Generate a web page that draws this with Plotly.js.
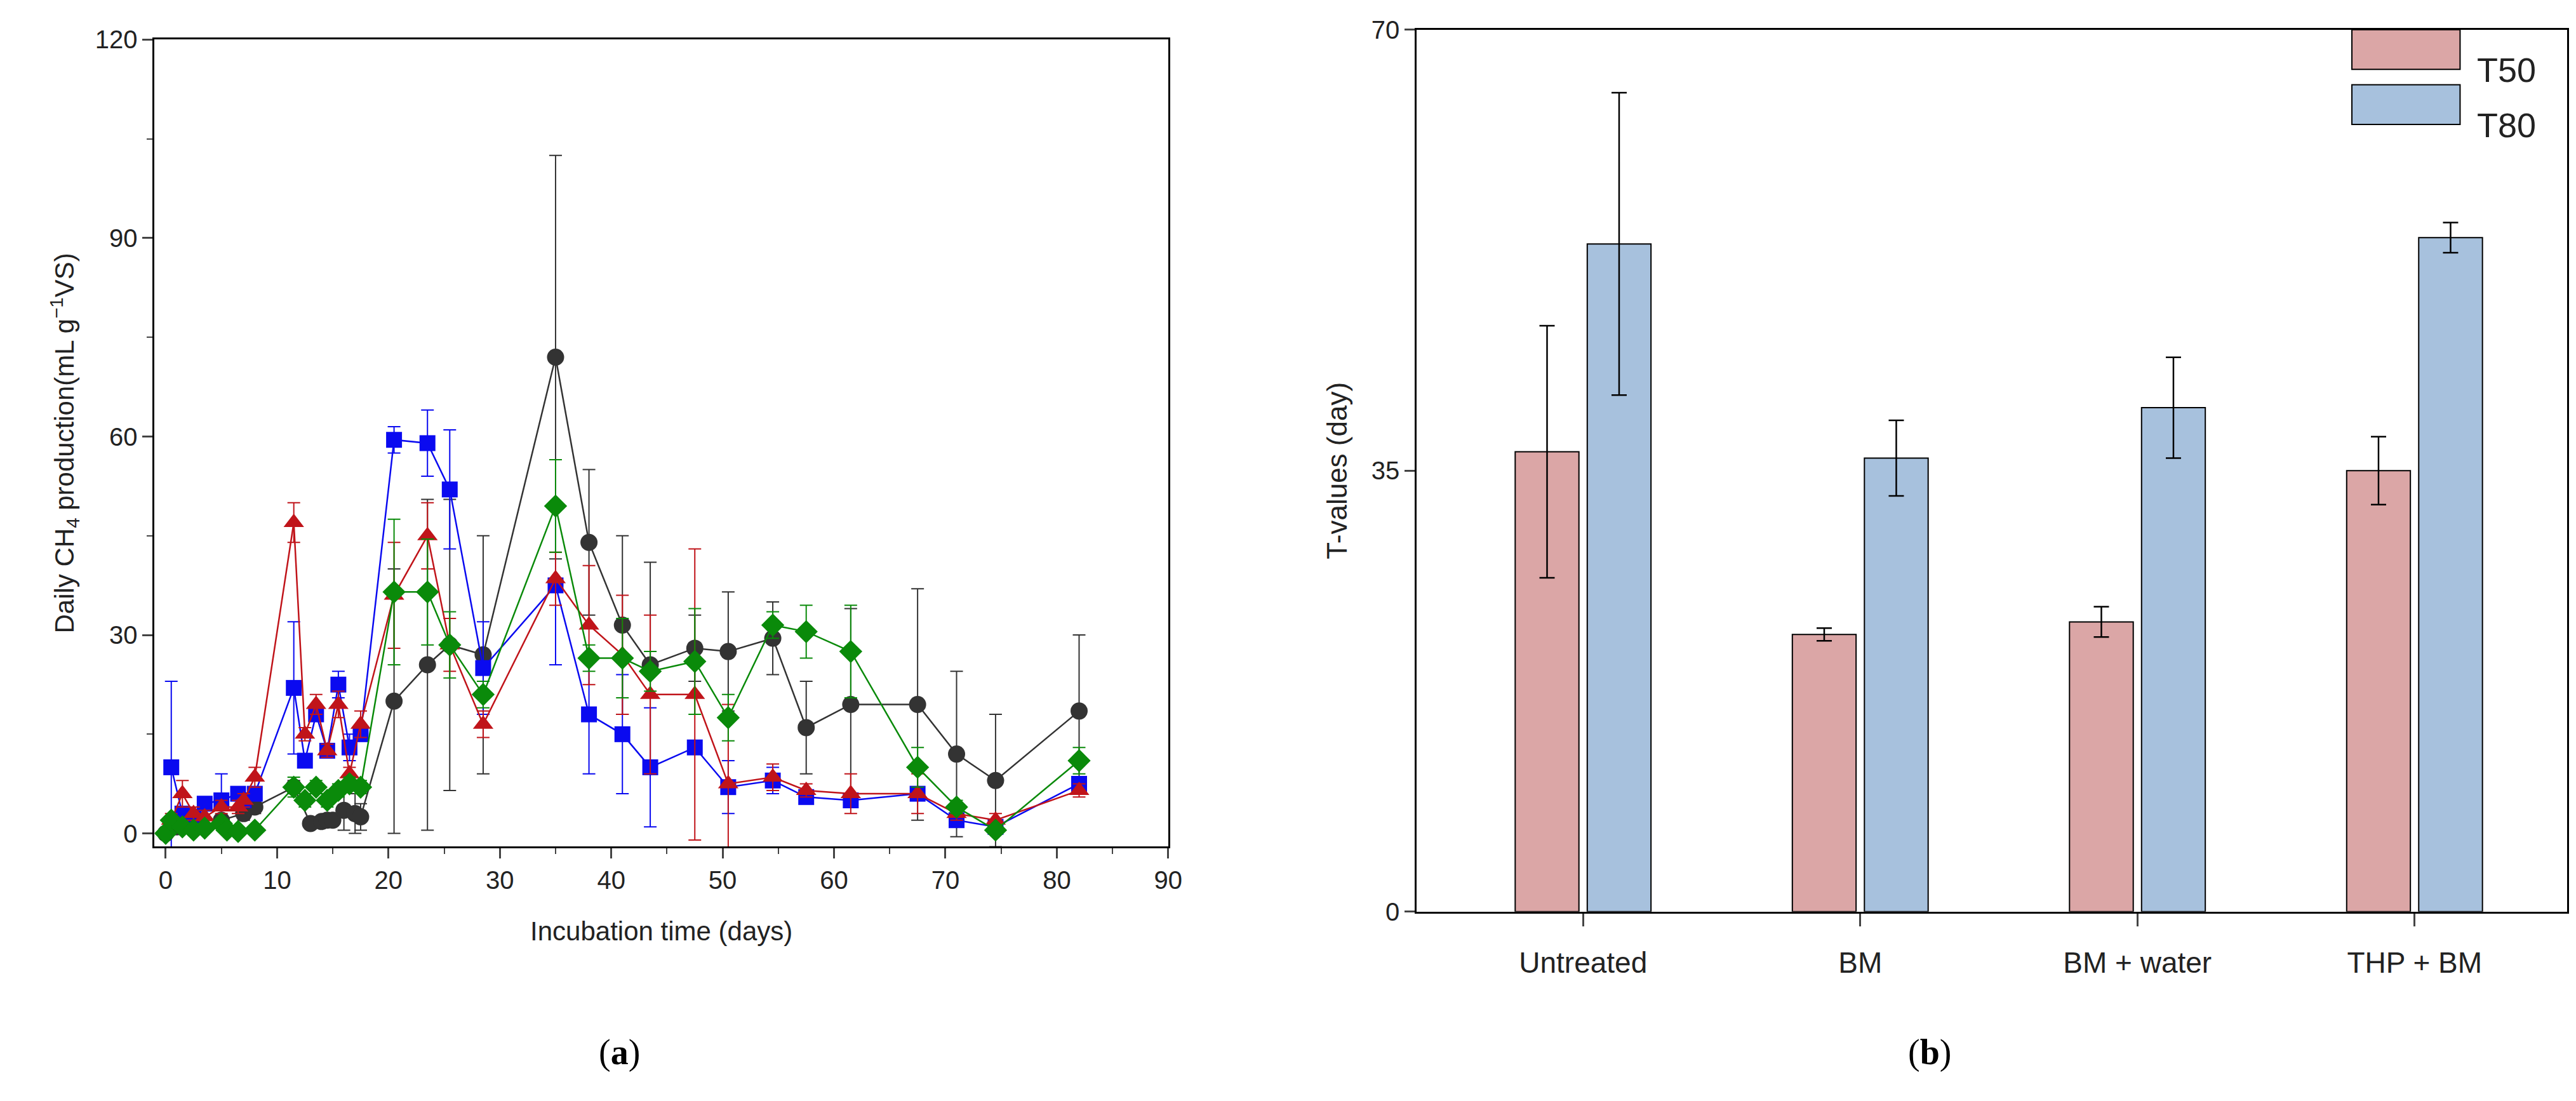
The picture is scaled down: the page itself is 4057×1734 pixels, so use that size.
<!DOCTYPE html>
<html><head><meta charset="utf-8">
<script src="https://cdn.plot.ly/plotly-3.0.1.min.js"></script>
<style>body{margin:0}#c{width:4057px;height:1734px}</style></head>
<body><div id="c"></div>
<script>
const xBlack=[0,1,2,3,5,7,8,11.5,13,14,14.5,15,16,17,17.5,20.5,23.5,25.5,28.5,35,38,41,43.5,47.5,50.5,54.5,57.5,61.5,67.5,71,74.5,82];
const yBlack=[0,1,1.5,2,2,3,4,7,1.5,1.8,2,2,3.5,3,2.5,20,25.5,28.5,27,72,44,31.5,25.5,28,27.5,29.5,16,19.5,19.5,12,8,18.5];
const eBlack=[0,0.5,0.5,0.5,0.5,1,1,1,0.5,0.5,0.5,0.5,3,3,2,20,25,22,18,30.5,11,13.5,15.5,5,9,5.5,7,14.5,17.5,12.5,10,11.5];
const xBlue=[0.5,1.5,2.5,3.5,5,6.5,7,8,11.5,12.5,13.5,14.5,15.5,16.5,17.5,20.5,23.5,25.5,28.5,35,38,41,43.5,47.5,50.5,54.5,57.5,61.5,67.5,71,74.5,82];
const yBlue=[10,3,2.5,4.5,5,6,5,6,22,11,18,12.5,22.5,13,15,59.5,59,52,25,37.5,18,15,10,13,7,8,5.5,5,6,2,1,7.5];
const eBlue=[13,1,1,1,4,1,1,1,10,1,1,1,2,2,1,2,5,9,7,12,9,9,9,1,4,2,1,1,1,1,1,1];
const xRed=[0.5,1.5,2.5,3.5,5,6.5,7,8,11.5,12.5,13.5,14.5,15.5,16.5,17.5,20.5,23.5,25.5,28.5,35,38,41,43.5,47.5,50.5,54.5,57.5,61.5,67.5,71,74.5,82];
const yRed=[2,6,3,2.5,4,4,5,8.5,47,15,19.5,12.5,19.5,9,16.5,36,45,28.5,16.5,38.5,31.5,27,21,21,7.5,8.5,6.5,6,6,3,2,6.5];
const eRed=[1,2,1,1,1,1,1,1.5,3,1,1.5,1,2,1,2,8,5,4,2,4,9,9,12,22,12,2,1,3,3,1,1,1];
const xGreen=[0,0.5,1.5,2.5,3.5,5,5.5,6.5,8,11.5,12.5,13.5,14.5,15.5,16.5,17.5,20.5,23.5,25.5,28.5,35,38,41,43.5,47.5,50.5,54.5,57.5,61.5,67.5,71,74.5,82];
const yGreen=[0,2,1,0.5,0.8,1.5,0.5,0.3,0.5,7,5,7,5,6.5,7.5,7,36.5,36.5,28.5,21,49.5,26.5,26.5,24.5,26,17.5,31.5,30.5,27.5,10,4,0.5,11];
const eGreen=[0,0.5,0.5,0.3,0.3,0.5,0.3,0.2,0.3,1.5,1,1,1,1,1,1,11,8,5,2,7,2,6,3,8,3.5,2,4,7,3,1,0.5,2];
const cats=['Untreated','BM','BM + water','THP + BM'];
const t50=[36.5,22,23,35];const t50e=[10,0.5,1.2,2.7];
const t80=[53,36,40,53.5];const t80e=[12,3,4,1.2];
const legNames=['T50','T80'];
const c50='#dba6a6', c80='#a7c1dd';

const F='Liberation Sans, Arial, sans-serif';
function ser(x,y,e,c,sym,sz){return {x:x,y:y,type:'scatter',mode:'lines+markers',xaxis:'x',yaxis:'y',showlegend:false,
 line:{color:c,width:2.5},marker:{color:c,symbol:sym,size:sz},
 error_y:{type:'data',array:e,visible:true,color:c,thickness:2,width:10}};}
const data=[
 ser(xBlack,yBlack,eBlack,'#333333','circle',27),
 ser(xBlue,yBlue,eBlue,'#0a0af0','square',25),
 ser(xRed,yRed,eRed,'#c0141a','triangle-up',28),
 ser(xGreen,yGreen,eGreen,'#0a8a0a','diamond',28),
 {x:[0,1,2,3],y:t50,type:'bar',name:legNames[0],showlegend:false,xaxis:'x2',yaxis:'y2',width:0.23,offset:-0.245,
  marker:{color:c50,line:{color:'#000',width:2}},error_y:{type:'data',array:t50e,color:'#000',thickness:2.5,width:12}},
 {x:[0,1,2,3],y:t80,type:'bar',name:legNames[1],showlegend:false,xaxis:'x2',yaxis:'y2',width:0.23,offset:0.015,
  marker:{color:c80,line:{color:'#000',width:2}},error_y:{type:'data',array:t80e,color:'#000',thickness:2.5,width:12}}
];
const ax={showline:true,linecolor:'#000',linewidth:3,mirror:true,ticks:'outside',ticklen:16,tickwidth:3,showgrid:false,zeroline:false,
 tickfont:{family:F,size:40,color:'#222'}};
// legend swatches (paper coords)
const lx0=0.913,lx1=0.955,ly=[0.955,0.905],lh=0.036;
const shapes=[],anns=[];
[c50,c80].forEach((c,i)=>{
 shapes.push({type:'rect',xref:'paper',yref:'paper',x0:lx0,x1:lx1,y0:ly[i]-lh/2,y1:ly[i]+lh/2,fillcolor:c,line:{color:'#000',width:2}});
 anns.push({text:legNames[i],xref:'paper',yref:'paper',x:lx1+0.006,y:ly[i],xanchor:'left',showarrow:false,font:{family:F,size:54,color:'#222'}});
});
anns.push({text:'(<b>a</b>)',x:0.232,y:0.025,xref:'paper',yref:'paper',showarrow:false,font:{family:'Liberation Serif, serif',size:56,color:'#000'}});
anns.push({text:'(<b>b</b>)',x:0.758,y:0.025,xref:'paper',yref:'paper',showarrow:false,font:{family:'Liberation Serif, serif',size:56,color:'#000'}});
const layout={width:4057,height:1734,margin:{l:0,r:0,t:0,b:0},paper_bgcolor:'#fff',plot_bgcolor:'#fff',font:{family:F},showlegend:false,
 xaxis:Object.assign({},ax,{domain:[0.060,0.4535],range:[-1,90],dtick:10,tick0:0,minor:{dtick:5,ticklen:9,tickwidth:2,ticks:'outside'},
  anchor:'y',title:{text:'Incubation time (days)',font:{family:F,size:42,color:'#222'},standoff:45}}),
 yaxis:Object.assign({},ax,{domain:[0.231,0.964],range:[-2,120],dtick:30,tick0:0,minor:{dtick:15,ticklen:9,tickwidth:2,ticks:'outside'},
  anchor:'x',title:{text:'Daily CH<sub>4</sub> production(mL g<sup>−1</sup>VS)',font:{family:F,size:42,color:'#222'},standoff:20}}),
 xaxis2:Object.assign({},ax,{domain:[0.55,0.9965],range:[-0.6,3.55],anchor:'y2',tickvals:[0,1,2,3],ticktext:cats,ticklen:20,ticklabelstandoff:18,tickfont:{family:F,size:46,color:'#222'}}),
 yaxis2:Object.assign({},ax,{domain:[0.172,0.973],range:[0,70],tickvals:[0,35,70],anchor:'x2',
  title:{text:'T-values (day)',font:{family:F,size:44,color:'#222'},standoff:25}}),
 shapes:shapes, annotations:anns};
Plotly.newPlot('c',data,layout,{staticPlot:true});
</script></body></html>
